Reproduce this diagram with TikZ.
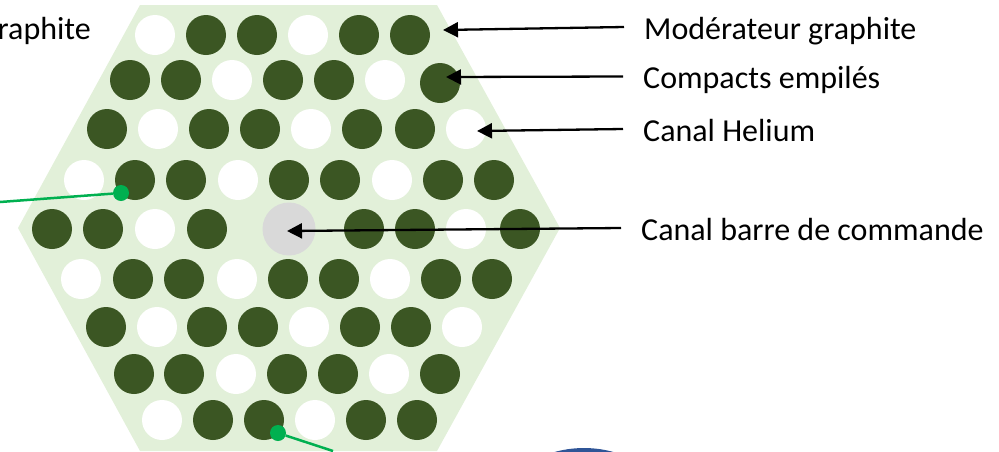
\documentclass[tikz,border=0pt]{standalone}
\usepackage{fontspec}
\setmainfont{Carlito}
\usetikzlibrary{arrows.meta}

\definecolor{graphiteclair}{HTML}{E2F0D9}
\definecolor{compactvert}{HTML}{3B5623}
\definecolor{barregris}{HTML}{D9D9D9}
\definecolor{fleche}{HTML}{00B050}
\definecolor{cuve}{HTML}{2F5597}

\tikzset{
  compact/.style={circle, fill=compactvert, inner sep=0pt, minimum size=40pt},
  helium/.style={circle, fill=white, inner sep=0pt, minimum size=40pt},
  repere/.style={anchor=west, inner ysep=0pt, inner xsep=20pt, font=\fontsize{32}{32}\selectfont},
  pointe/.style={line width=2.3pt, -{Triangle[length=15pt,width=15pt]}},
  sortie/.style={line width=2.5pt, fleche},
}

\begin{document}
\begin{tikzpicture}[x=1pt, y=-1pt]
\useasboundingbox (0,0) rectangle (999,451);
\clip (0,0) rectangle (999,451);

% Hexagonal graphite block
\fill[graphiteclair] (140,5) -- (437,5) -- (560,228) -- (437,451) -- (140,451) -- (18,228) -- cycle;

% Rows of channels
\foreach \x/\kind in {155/helium,206/compact,257/compact,308/helium,359/compact,410/compact}
  \node[\kind] (a\x) at (\x,35) {};
\foreach \x/\kind in {130/compact,181/compact,232/helium,283/compact,334/compact,385/helium}
  \node[\kind] (b\x) at (\x,80) {};
\node[compact] (b440) at (440,83) {};
\foreach \x/\kind in {107/compact,158/helium,209/compact,260/compact,311/helium,362/compact,415/compact,466/helium}
  \node[\kind] (c\x) at (\x,129) {};
\foreach \x/\kind in {84/helium,135/compact,186/compact,238/helium,289/compact,340/compact,392/helium,443/compact,494/compact}
  \node[\kind] (d\x) at (\x,180) {};
\foreach \x/\kind in {52/compact,103/compact,155/helium,207/compact,364/compact,415/compact,466/helium,520/compact}
  \node[\kind] (e\x) at (\x,229) {};
\foreach \x/\kind in {81/helium,133/compact,184/compact,237/helium,288/compact,339/compact,390/helium,441/compact,492/compact}
  \node[\kind] (f\x) at (\x,279) {};
\foreach \x/\kind in {106/compact,157/helium,207/compact,258/compact,309/helium,360/compact,411/compact,462/helium}
  \node[\kind] (g\x) at (\x,327) {};
\foreach \x/\kind in {134/compact,184/compact,236/helium,287/compact,338/compact,389/helium,440/compact}
  \node[\kind] (h\x) at (\x,374) {};
\foreach \x/\kind in {162/helium,213/compact,264/compact,315/helium,366/compact,417/compact}
  \node[\kind] (i\x) at (\x,420) {};

% Control rod channel
\node[circle, fill=barregris, inner sep=0pt, minimum size=53pt] (barre) at (289,229) {};

% Vessel, cut by the frame
\fill[cuve] (584,558) circle (110);

% Labels
\node[repere] (lblGraphite) at (624,31) {Modérateur graphite};
\node[repere] (lblCompacts) at (623,80) {Compacts empilés};
\node[repere] (lblHelium) at (623,131) {Canal Helium};
\node[repere] (lblBarre) at (621,230) {Canal barre de commande};
\node[anchor=east, inner sep=0pt, font=\fontsize{32}{32}\selectfont] (lblGauche) at (91,31) {graphite};

% Arrow ends
\coordinate (tipGraphite) at (443,30);
\coordinate (tipCompacts) at (446,77);
\coordinate (tipHelium) at (477,131);
\coordinate (tipBarre) at (287,231);

\draw[pointe] ([yshift=4pt]lblGraphite.west) -- (tipGraphite);
\draw[pointe] ([yshift=3.5pt]lblCompacts.west) -- (tipCompacts);
\draw[pointe] ([yshift=2pt]lblHelium.west) -- (tipHelium);
\draw[pointe] ([yshift=2pt]lblBarre.west) -- (tipBarre);

% Green leaders
\node[circle, fill=fleche, inner sep=0pt, minimum size=16pt] (dotHaut) at (121,193) {};
\node[circle, fill=fleche, inner sep=0pt, minimum size=16pt] (dotBas) at (278,433) {};
\coordinate (finHaut) at (0,202);
\coordinate (finBas) at (333,451);
\draw[sortie] (dotHaut) -- (finHaut);
\draw[sortie] (dotBas) -- (finBas);

\end{tikzpicture}
\end{document}
